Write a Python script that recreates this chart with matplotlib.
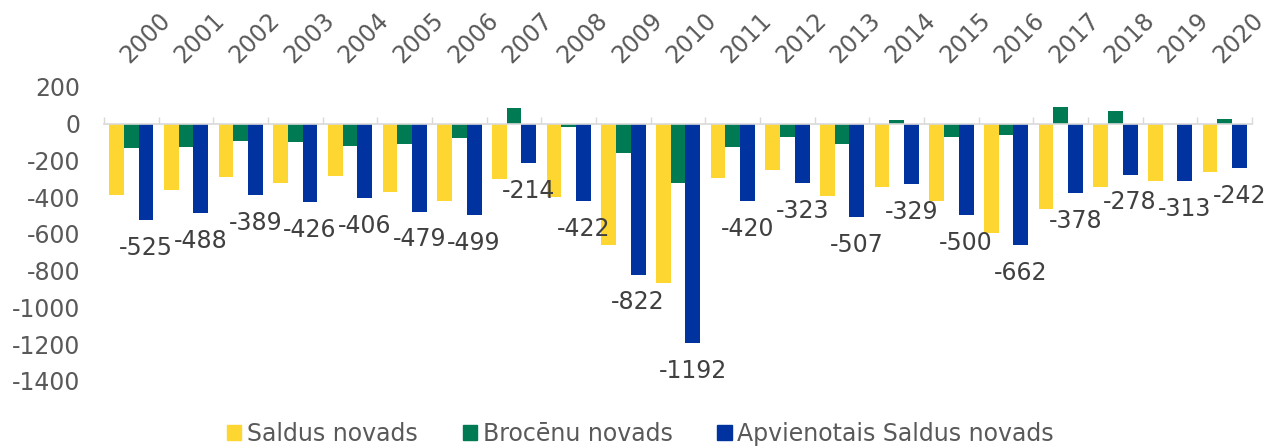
import numpy as np
import matplotlib.pyplot as plt
import matplotlib.transforms as mtransforms
from matplotlib.patches import Patch

# dati
years = [str(y) for y in range(2000, 2021)]
saldus = [-390, -362, -292, -326, -285, -370, -421, -300, -401, -660, -866,
          -294, -251, -396, -347, -424, -597, -466, -345, -310, -266]
brocenu = [-135, -126, -97, -100, -121, -109, -78, 86, -21, -162, -326,
           -126, -72, -111, 18, -76, -65, 88, 67, -3, 24]
apvienotais = [-525, -488, -389, -426, -406, -479, -499, -214, -422, -822, -1192,
               -420, -323, -507, -329, -500, -662, -378, -278, -313, -242]
series_names = ["Saldus novads", "Brocēnu novads", "Apvienotais Saldus novads"]
colors = ["#FED631", "#007A53", "#0033A0"]

plt.rcParams["font.family"] = "DejaVu Sans"
plt.rcParams["font.size"] = 17
plt.rcParams["axes.unicode_minus"] = False

fig = plt.figure(figsize=(12.81, 4.47), dpi=100)
ax = fig.add_axes([0.0812, 0.1477, 0.8962, 0.6583])

x = np.arange(len(years))
w = 0.27
for i, vals in enumerate([saldus, brocenu, apvienotais]):
    ax.bar(x + (i - 1) * w, vals, width=w, color=colors[i], edgecolor="none")

# datu etiķetes apvienotajam novadam
for xi, v in zip(x, apvienotais):
    ax.annotate(str(v), (xi + w, v), xytext=(0, -20), textcoords="offset points",
                ha="center", va="center", color="#404040", fontsize=17)

for s in ["left", "right", "top"]:
    ax.spines[s].set_visible(False)
ax.spines["bottom"].set_position(("data", 0))
ax.spines["bottom"].set_color("#d9d9d9")
ax.spines["bottom"].set_linewidth(1.2)

ax.set_xlim(-0.5, len(years) - 0.5)
ax.set_ylim(-1400, 200)
ax.set_yticks(np.arange(-1400, 201, 200))

# gadi augšā, pagriezti 45°
ax.set_xticks(x, [])
ax.set_xticks(np.r_[x - 0.5, x[-1] + 0.5], minor=True)
ax.tick_params(axis="x", which="major", top=False, bottom=False,
               labeltop=False, labelbottom=False)
ax.tick_params(axis="x", which="minor", bottom=True, top=False, direction="in",
               length=5, width=1, color="#d9d9d9")
ax.tick_params(axis="y", length=0, pad=17, colors="#595959")

trans = mtransforms.blended_transform_factory(ax.transData, ax.transAxes)
trans = trans + mtransforms.ScaledTranslation(1 / 100, 19 / 100, fig.dpi_scale_trans)
for xi, yr in zip(x, years):
    ax.text(xi, 1, yr, transform=trans, rotation=45, rotation_mode="anchor",
            ha="left", va="bottom", color="#595959", fontsize=17, clip_on=False)

handles = [Patch(color=c, label=n) for c, n in zip(colors, series_names)]
fig.legend(handles=handles, loc="lower center", bbox_to_anchor=(0.5, -0.045), ncol=3,
           frameon=False, handlelength=0.6, handleheight=0.6, handletextpad=0.25,
           columnspacing=1.9, labelcolor="#595959", fontsize=17)

fig.savefig("out.png", dpi=100)
